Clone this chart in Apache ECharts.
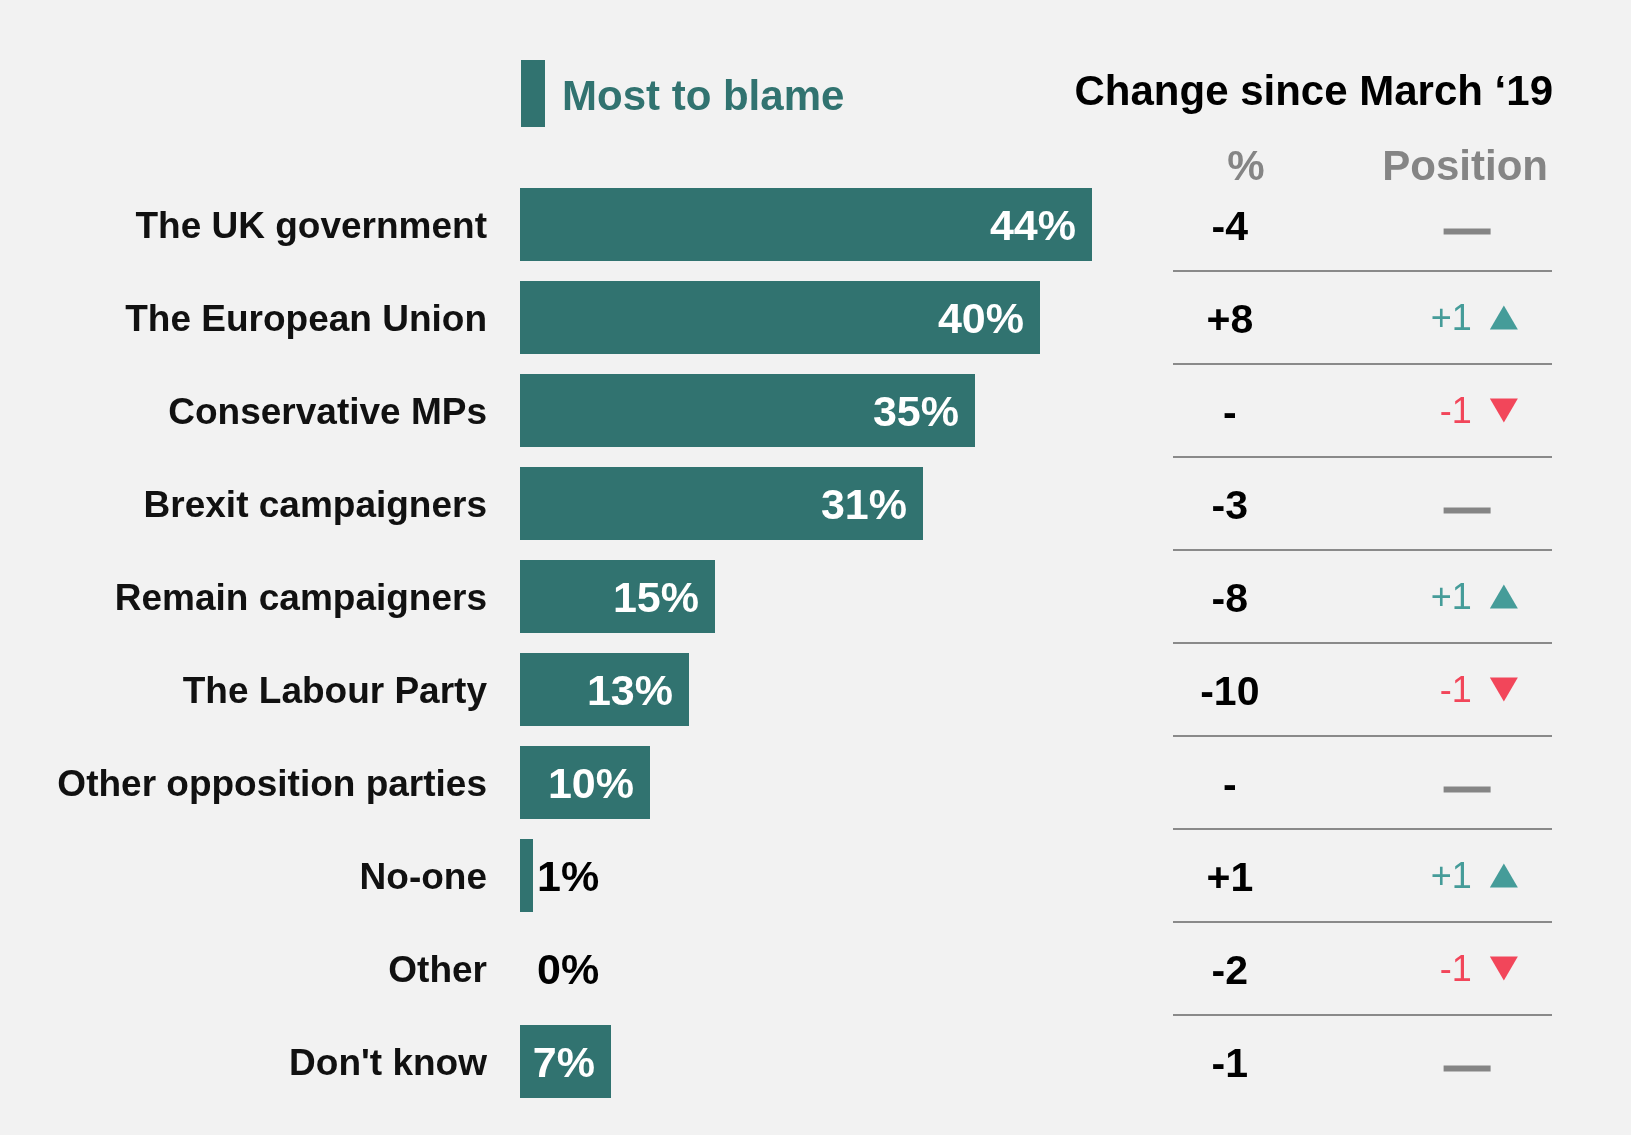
<!DOCTYPE html>
<html>
<head>
<meta charset="utf-8">
<style>
  html, body { margin: 0; padding: 0; background: #f2f2f2; }
  #chart { width: 1631px; height: 1135px; }
</style>
<script src="https://cdn.jsdelivr.net/npm/echarts@6/dist/echarts.min.js"></script>
</head>
<body>
<div id="chart"></div>
<script>
const categories = [
  'The UK government', 'The European Union', 'Conservative MPs', 'Brexit campaigners',
  'Remain campaigners', 'The Labour Party', 'Other opposition parties', 'No-one', 'Other', "Don't know"
];
const mostToBlame = [44, 40, 35, 31, 15, 13, 10, 1, 0, 7];
const changePct = ['-4', '+8', '-', '-3', '-8', '-10', '-', '+1', '-2', '-1'];
const positionChange = [0, 1, -1, 0, 1, -1, 0, 1, -1, 0];
const seriesName = 'Most to blame';
const titleText = 'Change since March \u201819';
const headerPct = '%';
const headerPos = 'Position';

const FONT = 'Liberation Sans, Arial, Helvetica, sans-serif';
const TEAL = '#317370';
const UP = '#459c99';
const DOWN = '#f2465a';
const GREY = '#858585';

const chart = echarts.init(document.getElementById('chart'));

const barData = mostToBlame.map(v => {
  if (v < 5) {
    return { value: v, label: { position: 'right', distance: v === 0 ? 17 : 4, color: '#000' } };
  }
  return { value: v };
});

const pctData = changePct.map((s, i) => [15, categories[i], s]);

const posData = positionChange.map((d, i) => {
  if (d === 0) {
    return {
      value: [77.6, categories[i], d],
      symbol: 'rect', symbolSize: [47, 6], symbolOffset: [0, 7],
      itemStyle: { color: GREY, opacity: 1 },
      label: { show: false }
    };
  }
  const col = d > 0 ? UP : DOWN;
  return {
    value: [87.3, categories[i], d],
    symbol: 'triangle', symbolSize: [28, 24], symbolRotate: d > 0 ? 0 : 180,
    itemStyle: { color: col, opacity: 1 },
    label: {
      show: true, position: 'left', distance: 18, offset: [0, 3],
      formatter: (d > 0 ? '+' : '-') + Math.abs(d),
      color: col, fontSize: 36, fontWeight: 'normal', fontFamily: FONT
    }
  };
});

const sepData = categories.slice(0, -1).map(c => [0, c]);

chart.setOption({
  backgroundColor: '#f2f2f2',
  animation: false,
  textStyle: { fontFamily: FONT },
  title: {
    text: titleText, right: 78, top: 72, padding: 0,
    textStyle: { fontSize: 42, fontWeight: 'bold', color: '#000', fontFamily: FONT }
  },
  legend: {
    data: [seriesName], left: 521, top: 60, padding: 0,
    icon: 'rect', itemWidth: 24, itemHeight: 67,
    selectedMode: false,
    formatter: '{a|{name}}',
    textStyle: {
      fontSize: 42, fontWeight: 'bold', color: TEAL, fontFamily: FONT,
      rich: { a: { fontSize: 42, fontWeight: 'bold', color: TEAL, fontFamily: FONT, padding: [10, 0, 0, 12] } }
    }
  },
  graphic: [
    { type: 'text', x: 1246, y: 168, style: { text: headerPct, font: 'bold 42px ' + FONT, fill: GREY, align: 'center', verticalAlign: 'middle' } },
    { type: 'text', x: 1548, y: 168, style: { text: headerPos, font: 'bold 42px ' + FONT, fill: GREY, align: 'right', verticalAlign: 'middle' } }
  ],
  grid: [
    { left: 520, top: 178, width: 780, height: 930 },
    { left: 1173, top: 178, width: 379, height: 930 }
  ],
  xAxis: [
    { type: 'value', gridIndex: 0, min: 0, max: 60, show: false },
    { type: 'value', gridIndex: 1, min: 0, max: 100, show: false }
  ],
  yAxis: [
    {
      type: 'category', gridIndex: 0, data: categories, inverse: true,
      axisLine: { show: false }, axisTick: { show: false }, splitLine: { show: false },
      axisLabel: {
        margin: 33, formatter: v => '{a|' + v + '}',
        rich: { a: { fontSize: 37, fontWeight: 'bold', color: '#111', fontFamily: FONT, padding: [6, 0, 0, 0] } }
      }
    },
    {
      type: 'category', gridIndex: 1, data: categories, inverse: true, show: false
    }
  ],
  series: [
    {
      name: seriesName, type: 'bar', xAxisIndex: 0, yAxisIndex: 0,
      data: barData, barWidth: 73,
      itemStyle: { color: TEAL },
      label: {
        show: true, position: 'insideRight', distance: 16, offset: [0, 4],
        formatter: '{c}%', fontSize: 43, fontWeight: 'bold', color: '#fff', fontFamily: FONT
      }
    },
    {
      type: 'custom', xAxisIndex: 1, yAxisIndex: 1, silent: true,
      data: sepData,
      renderItem: (params, api) => {
        const idx = api.value(1);
        const p1 = api.coord([0, idx]);
        const p2 = api.coord([100, idx]);
        const h = api.size([0, 1])[1];
        const y = p1[1] + h / 2;
        return { type: 'line', shape: { x1: p1[0], y1: y, x2: p2[0], y2: y }, style: { stroke: '#8a8a8a', lineWidth: 2 } };
      }
    },
    {
      type: 'scatter', xAxisIndex: 1, yAxisIndex: 1, silent: true,
      data: pctData, symbolSize: 0,
      itemStyle: { opacity: 1 },
      label: {
        show: true, position: 'inside', offset: [0, 4],
        formatter: p => p.value[2],
        fontSize: 41, fontWeight: 'bold', color: '#000', fontFamily: FONT
      }
    },
    {
      type: 'scatter', xAxisIndex: 1, yAxisIndex: 1, silent: true,
      data: posData
    }
  ]
});
</script>
</body>
</html>
